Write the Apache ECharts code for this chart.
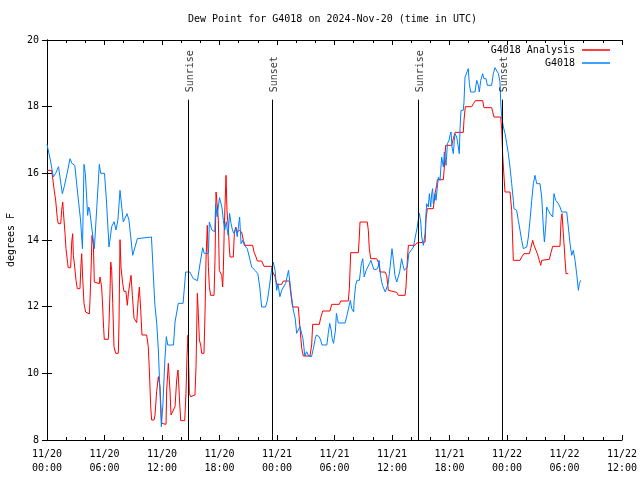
<!DOCTYPE html>
<html><head><meta charset="utf-8">
<script src="https://cdn.jsdelivr.net/npm/echarts@6/dist/echarts.min.js"></script>
<style>html,body{margin:0;padding:0;background:#fff}#c{width:640px;height:480px}</style>
</head><body><div id="c"></div>
<script>
const titleText = 'Dew Point for G4018 on 2024-Nov-20 (time in UTC)';
const yAxisName = 'degrees F';
const analysisName = 'G4018 Analysis';
const stationName = 'G4018';
// [hours since 2024-11-20 00:00 UTC, dew point F]
const analysisData = [
[0,16.09],[0.49,16.09],[0.73,15.54],[0.9,15.2],[1.08,14.64],[1.18,14.49],[1.43,14.49],[1.53,14.89],[1.64,15.14],[1.7,14.89],
[1.88,14.19],[1.98,13.74],[2.16,13.29],[2.22,13.17],[2.47,13.17],[2.58,13.94],[2.68,14.19],[2.75,13.54],[2.89,13.19],[3.03,12.79],
[3.16,12.54],[3.44,12.54],[3.55,13.29],[3.62,13.59],[3.72,12.89],[3.86,12.1],[4.03,11.84],[4.14,11.78],[4.42,11.78],[4.49,12.19],
[4.59,13.04],[4.7,14.14],[4.84,13.84],[4.94,12.74],[5.01,12.69],[5.46,12.69],[5.53,12.89],[5.7,12.59],[5.81,11.99],[5.91,11.35],
[5.98,11.02],[6.4,11.02],[6.47,11.5],[6.57,12.4],[6.65,13.34],[6.75,13.09],[6.86,12.09],[6.99,10.8],[7.17,10.6],[7.44,10.6],
[7.51,11.45],[7.62,14.01],[7.72,13.19],[7.9,12.69],[8.03,12.46],[8.24,12.46],[8.38,12.04],[8.49,12.39],[8.66,12.74],[8.77,12.94],
[8.91,12.34],[9.08,11.65],[9.36,11.52],[9.53,12.25],[9.64,12.59],[9.78,11.89],[9.91,11.15],[10.4,11.15],[10.57,10.8],[10.68,10.1],
[10.82,9.0],[10.92,8.6],[11.17,8.6],[11.27,8.75],[11.44,9.45],[11.62,9.9],[11.79,9.6],[11.96,8.5],[12.42,8.47],[12.49,9.5],
[12.66,10.3],[12.83,9.5],[12.94,8.75],[13.11,8.8],[13.36,9.0],[13.53,9.8],[13.67,10.1],[13.81,9.3],[13.95,8.58],[14.37,8.58],
[14.5,9.4],[14.61,10.5],[14.71,11.15],[14.82,9.85],[14.85,9.4],[14.99,9.3],[15.44,9.35],[15.55,10.2],[15.69,12.4],[15.79,11.8],
[15.9,11.0],[16.04,10.85],[16.14,10.6],[16.38,10.6],[16.49,11.8],[16.59,13.39],[16.73,14.44],[16.84,13.2],[16.94,12.6],[17.08,12.34],
[17.43,12.34],[17.53,13.39],[17.64,15.44],[17.78,14.99],[17.88,14.59],[17.98,13.09],[18.12,13.09],[18.23,12.94],[18.33,12.59],[18.4,13.09],
[18.5,14.39],[18.68,15.94],[18.78,14.89],[18.92,14.39],[19.02,13.79],[19.1,13.49],[19.44,13.49],[19.55,14.19],[19.69,14.39],[19.86,14.24],
[20.07,14.29],[20.31,14.24],[20.49,13.99],[20.66,13.84],[21.46,13.84],[21.6,13.64],[21.81,13.49],[21.95,13.37],[22.4,13.37],[22.64,13.21],
[23.45,13.21],[23.55,13.04],[23.79,12.9],[23.97,12.67],[24.49,12.67],[24.66,12.77],[25.29,12.77],[25.43,12.4],[25.63,11.99],[26.22,11.99],
[26.4,11.35],[26.58,10.75],[26.75,10.52],[27.44,10.52],[27.62,10.85],[27.72,11.47],[28.42,11.47],[28.56,11.67],[28.77,11.87],[29.53,11.87],
[29.71,12.07],[30.5,12.07],[30.65,12.17],[31.44,12.17],[31.55,12.55],[31.69,13.62],[32.49,13.62],[32.59,14.09],[32.66,14.54],[33.42,14.54],
[33.53,14.29],[33.63,13.74],[33.78,13.44],[34.4,13.44],[34.57,13.34],[34.75,13.04],[35.27,13.04],[35.44,12.94],[35.62,12.49],[35.79,12.43],
[36.49,12.43],[36.66,12.34],[37.36,12.34],[37.46,12.59],[37.6,13.39],[37.71,13.84],[38.4,13.84],[38.58,13.91],[38.75,13.94],[39.45,13.94],
[39.55,14.64],[39.69,14.94],[40.31,14.94],[40.49,15.39],[40.66,15.64],[40.73,15.81],[41.36,15.81],[41.46,16.19],[41.6,16.84],[42.23,16.84],
[42.4,17.04],[42.58,17.23],[43.44,17.23],[43.51,17.59],[43.65,18.0],[44.32,18.0],[44.49,18.09],[44.7,18.18],[45.46,18.18],[45.6,17.97],
[46.4,17.97],[46.64,17.69],[47.34,17.69],[47.45,17.31],[47.55,16.54],[47.69,15.89],[47.79,15.44],[48.31,15.44],[48.49,14.89],[48.66,13.39],
[49.36,13.39],[49.53,13.49],[49.77,13.59],[50.33,13.59],[50.47,13.74],[50.68,13.99],[50.82,13.84],[51.03,13.69],[51.17,13.59],[51.37,13.39],
[51.52,13.24],[51.62,13.39],[51.79,13.42],[52.42,13.42],[52.56,13.59],[52.77,13.81],[53.53,13.81],[53.64,14.59],[53.74,14.79],[53.88,14.19],
[54.05,13.44],[54.16,12.99],[54.4,12.99]
];
const stationData = [
[0,16.87],[0.35,16.4],[0.66,15.89],[0.9,16.0],[1.2,16.2],[1.4,16.2],[1.6,15.39],[1.8,15.6],[2.1,16.0],[2.4,16.44],
[2.6,16.3],[2.9,16.24],[3.2,15.4],[3.5,14.6],[3.7,13.74],[3.86,16.27],[4.0,16.0],[4.24,14.74],[4.35,14.99],[4.45,14.9],
[4.94,13.74],[5.2,15.0],[5.46,16.27],[5.6,16.0],[6.0,16.0],[6.2,15.2],[6.47,13.79],[6.75,14.4],[7.0,14.55],[7.2,14.3],
[7.4,14.6],[7.62,15.49],[7.96,14.54],[8.35,14.79],[8.55,14.6],[8.94,13.54],[9.43,14.04],[10.9,14.09],[11.16,12.59],[11.26,12.04],
[11.45,11.5],[11.62,10.7],[11.93,8.4],[12.1,9.1],[12.3,10.4],[12.45,11.1],[12.6,10.85],[13.2,10.85],[13.36,11.54],[13.7,12.1],
[14.2,12.1],[14.47,13.04],[14.9,13.04],[15.27,12.84],[15.7,12.78],[15.97,13.29],[16.25,13.77],[16.4,13.6],[16.85,13.6],[16.94,14.54],
[17.2,14.3],[17.5,14.25],[17.6,15.09],[17.75,14.7],[18.0,15.27],[18.25,14.99],[18.4,14.59],[18.55,14.3],[18.7,14.55],[18.9,14.14],
[19.05,14.8],[19.2,14.5],[19.35,14.3],[19.5,14.2],[19.7,14.35],[19.85,14.1],[20.1,14.69],[20.25,13.89],[20.4,13.99],[20.6,13.84],
[20.9,13.74],[21.1,13.69],[21.36,13.19],[21.7,13.09],[22.0,12.99],[22.2,12.59],[22.4,11.99],[22.8,11.99],[23.0,12.19],[23.2,12.59],
[23.45,13.14],[23.6,13.34],[23.8,13.09],[23.97,12.49],[24.1,12.69],[24.3,12.3],[24.5,12.5],[24.7,12.44],[24.9,12.7],[25.2,13.09],
[25.4,12.6],[25.5,12.34],[25.7,11.9],[25.9,11.65],[26.05,11.2],[26.25,11.15],[26.4,11.4],[26.6,11.4],[26.7,11.05],[26.8,10.8],
[26.9,10.52],[27.1,10.65],[27.3,10.52],[27.6,10.5],[27.8,10.75],[28.0,11.05],[28.1,11.15],[28.4,11.1],[28.55,11.0],[28.7,10.85],
[29.2,10.85],[29.35,11.2],[29.5,11.5],[29.65,11.3],[29.75,11.05],[29.9,10.9],[30.05,10.9],[30.1,11.3],[30.2,11.8],[30.3,11.65],
[30.4,11.51],[31.1,11.51],[31.3,11.74],[31.5,11.99],[31.65,12.19],[31.8,11.94],[32.0,11.84],[32.05,12.19],[32.2,12.64],[32.35,12.79],
[32.6,12.79],[32.8,13.29],[32.95,13.44],[33.1,12.89],[33.3,13.09],[33.45,13.14],[33.65,13.29],[33.8,13.39],[34.1,13.12],[34.4,13.12],
[34.55,13.19],[34.65,13.39],[34.8,12.94],[35.0,12.64],[35.3,12.44],[35.45,12.38],[35.6,12.69],[35.8,13.19],[36.0,13.74],[36.15,13.39],
[36.3,12.94],[36.5,12.74],[36.65,12.89],[36.8,13.04],[37.0,13.44],[37.15,13.24],[37.3,13.09],[37.5,13.09],[37.6,13.19],[37.75,13.59],
[37.88,13.59],[38.23,13.79],[38.5,14.19],[38.64,14.39],[38.78,14.69],[38.85,14.81],[39.0,14.54],[39.1,14.09],[39.27,13.84],[39.45,14.19],
[39.55,14.79],[39.62,15.09],[39.79,14.99],[39.9,15.39],[40.04,14.99],[40.14,15.39],[40.24,15.54],[40.31,15.09],[40.49,15.39],[40.59,15.19],
[40.73,15.59],[40.84,15.89],[41.01,15.79],[41.18,16.49],[41.36,16.19],[41.46,16.64],[41.64,16.24],[41.78,16.89],[41.95,16.99],[42.05,17.14],
[42.16,17.24],[42.26,16.79],[42.4,16.59],[42.5,16.99],[42.58,17.19],[42.75,17.09],[42.92,16.79],[43.02,16.59],[43.1,17.34],[43.2,17.89],
[43.44,17.89],[43.51,18.14],[43.62,18.89],[43.8,18.89],[43.96,19.14],[44.07,18.69],[44.21,18.44],[44.66,18.44],[44.84,18.79],[45.01,18.64],
[45.11,18.44],[45.26,18.79],[45.46,18.99],[45.6,18.84],[45.81,18.84],[45.95,18.64],[46.4,18.64],[46.57,18.99],[46.75,19.17],[46.93,19.14],
[47.1,18.99],[47.27,18.74],[47.34,18.14],[47.45,17.69],[47.62,17.39],[47.8,17.19],[47.97,16.89],[48.14,16.59],[48.31,16.19],[48.49,15.69],
[48.66,15.19],[48.73,14.94],[49.01,14.89],[49.18,14.59],[49.36,14.29],[49.53,13.99],[49.71,13.74],[49.88,13.69],[50.06,13.79],[50.23,14.09],
[50.4,14.59],[50.58,15.19],[50.75,15.69],[50.92,15.94],[51.1,15.69],[51.44,15.69],[51.62,15.29],[51.79,14.39],[51.9,13.94],[52.04,14.39],
[52.14,14.99],[52.31,14.94],[52.49,14.79],[52.66,14.84],[52.77,14.69],[52.9,15.39],[53.08,15.19],[53.36,15.09],[53.53,14.99],[53.71,14.84],
[54.23,14.84],[54.4,14.39],[54.58,13.89],[54.75,13.54],[54.92,13.69],[55.1,13.39],[55.27,12.99],[55.45,12.49],[55.55,12.69],[55.69,12.79]
];
const sunTimes = [14.75, 23.55, 38.75, 47.53];
const sunLabels = ['Sunrise', 'Sunset', 'Sunrise', 'Sunset'];
const sunLineTop = 18.21;
const sunLabelBase = 18.43;
const xMin = 0, xMax = 60, xStep = 6;
const yMin = 8, yMax = 20, yStep = 2;

const FONT = 'DejaVu Sans Mono';
const pad = n => String(n).padStart(2, '0');
function xLabel(h) {
  const d = 20 + Math.floor(h / 24);
  return '11/' + d + '\n' + pad(h % 24) + ':00';
}
const axisCommon = {
  axisLine: { show: true, lineStyle: { color: '#000', width: 1 } },
  axisTick: { show: true, inside: true, length: 5, lineStyle: { color: '#000' } },
  splitLine: { show: false }
};
const chart = echarts.init(document.getElementById('c'), null, { renderer: 'canvas' });
chart.setOption({
  animation: false,
  backgroundColor: '#fff',
  textStyle: { fontFamily: FONT },
  title: {
    text: titleText, left: 188, top: 14, padding: 0,
    textStyle: { fontFamily: FONT, fontSize: 10, fontWeight: 'normal', color: '#000' }
  },
  legend: {
    data: [analysisName, stationName],
    orient: 'vertical', right: 30, top: 44, align: 'right', padding: 0,
    itemWidth: 28, itemHeight: 1.5, itemGap: 1, icon: 'rect',
    textStyle: { fontFamily: FONT, fontSize: 10, color: '#000', lineHeight: 12, padding: [0, 2, 0, 0] }
  },
  grid: { left: 47, right: 18, top: 40, bottom: 40, containLabel: false, outerBoundsMode: 'none' },
  xAxis: [
    Object.assign({}, axisCommon, {
      type: 'value', min: xMin, max: xMax, interval: xStep, position: 'bottom',
      minorTick: { show: true, splitNumber: 3, length: 3, lineStyle: { color: '#000' } },
      axisLabel: { formatter: xLabel, margin: 7, lineHeight: 14, fontFamily: FONT, fontSize: 10, color: '#000' }
    }),
    Object.assign({}, axisCommon, {
      type: 'value', min: xMin, max: xMax, interval: xStep, position: 'top',
      minorTick: { show: true, splitNumber: 3, length: 3, lineStyle: { color: '#000' } },
      axisLabel: { show: false }
    })
  ],
  yAxis: [
    Object.assign({}, axisCommon, {
      type: 'value', min: yMin, max: yMax, interval: yStep, position: 'left',
      name: yAxisName, nameLocation: 'middle', nameGap: 30, nameRotate: 90,
      nameTextStyle: { fontFamily: FONT, fontSize: 10, color: '#000' },
      axisLabel: { margin: 8, fontFamily: FONT, fontSize: 10, color: '#000' }
    }),
    Object.assign({}, axisCommon, {
      type: 'value', min: yMin, max: yMax, interval: yStep, position: 'right',
      axisLabel: { show: false }
    })
  ],
  series: [
    {
      name: analysisName, type: 'line', data: analysisData, showSymbol: false,
      color: '#ff0000', lineStyle: { color: '#ff0000', width: 1 }, z: 3
    },
    {
      name: stationName, type: 'line', data: stationData, showSymbol: false,
      color: '#0080ff', lineStyle: { color: '#0080ff', width: 1 }, z: 4
    },
    {
      name: 'sun', type: 'scatter', symbolSize: 0, silent: true, z: 5,
      data: sunTimes.map((t, i) => ({ value: [t, sunLabelBase], name: sunLabels[i] })),
      label: {
        show: true, formatter: '{b}', position: [2, 0], rotate: 90,
        align: 'left', verticalAlign: 'middle',
        fontFamily: FONT, fontSize: 10, color: '#000'
      },
      markLine: {
        silent: true, symbol: 'none', label: { show: false },
        lineStyle: { color: '#000', width: 1, type: 'solid' },
        data: sunTimes.map(t => [{ coord: [t, yMin] }, { coord: [t, sunLineTop] }])
      }
    }
  ]
});
</script>
</body></html>
